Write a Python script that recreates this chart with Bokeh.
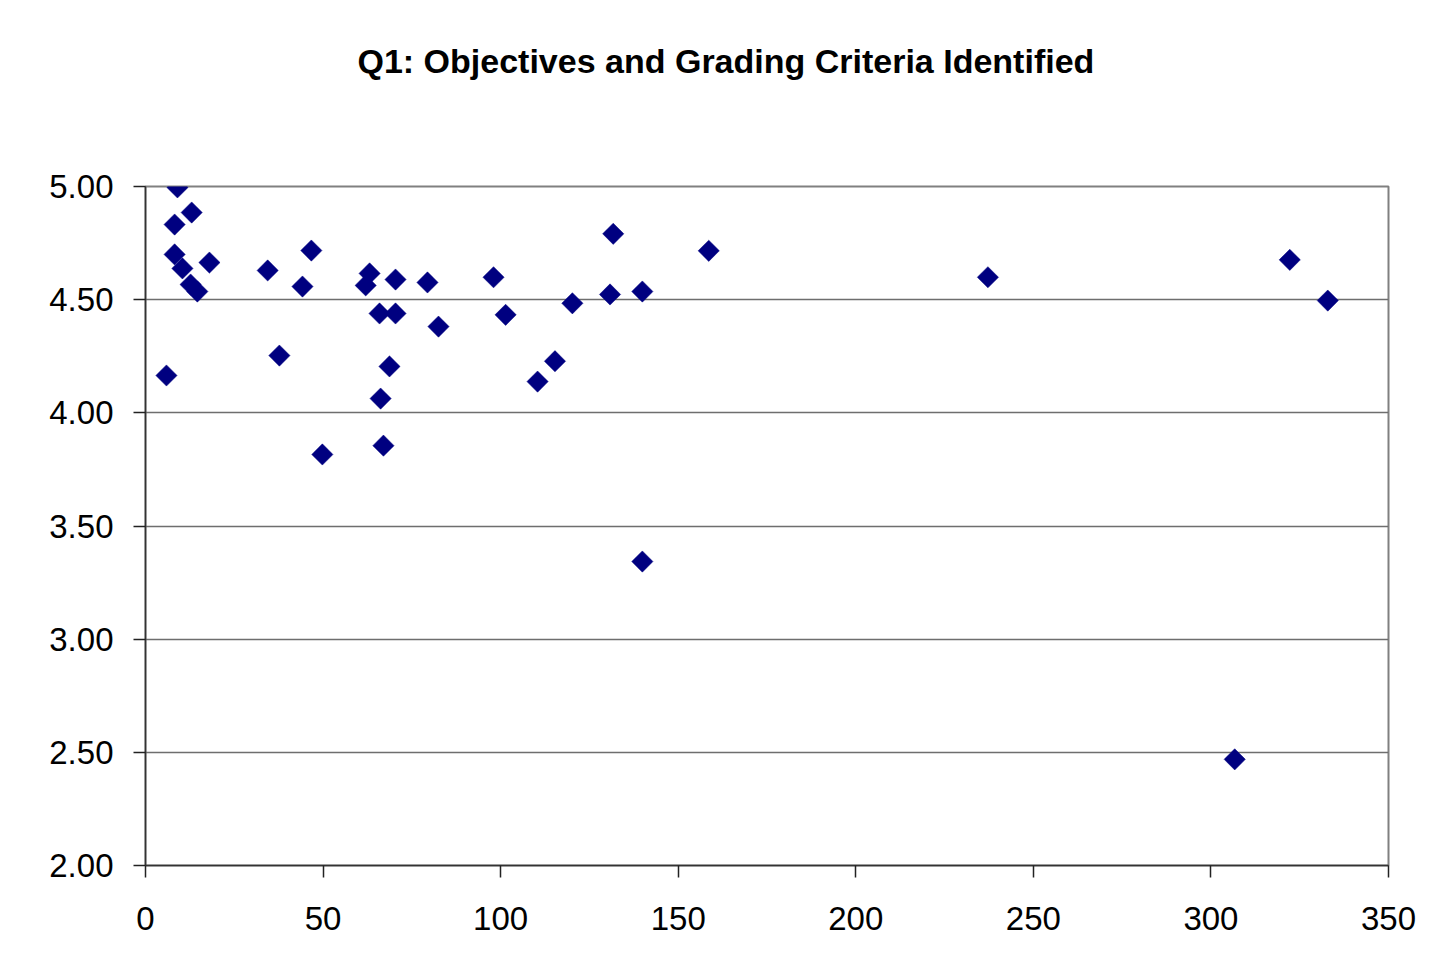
from bokeh.plotting import figure
from bokeh.models import NumeralTickFormatter, FixedTicker, Range1d, Title
from bokeh.embed import file_html
from bokeh.resources import INLINE
import math

enrollment = [5.9, 8.2, 9.0, 8.2, 10.4, 13.0, 12.7, 14.6, 18.0, 34.4, 37.7, 44.2,
              46.7, 49.8, 62.0, 63.1, 65.9, 66.2, 67.0, 68.7, 70.4, 70.4, 79.4, 82.5,
              98.0, 101.4, 131.7, 158.6, 120.2, 130.8, 139.9, 115.3, 110.4, 139.9,
              237.2, 322.2, 332.9, 306.7]
score = [4.165, 4.832, 4.996, 4.70, 4.638, 4.885, 4.567, 4.536, 4.664, 4.629, 4.253, 4.558,
         4.717, 3.816, 4.563, 4.616, 4.439, 4.063, 3.855, 4.205, 4.589, 4.439, 4.576, 4.381,
         4.599, 4.433, 4.791, 4.716, 4.484, 4.523, 4.536, 4.228, 4.138, 3.343,
         4.599, 4.676, 4.496, 2.469]

x_ticks = [0, 50, 100, 150, 200, 250, 300, 350]
y_ticks = [2.0, 2.5, 3.0, 3.5, 4.0, 4.5, 5.0]
title_text = "Q1: Objectives and Grading Criteria Identified"

p = figure(output_backend="svg", toolbar_location=None,
           frame_width=1243, frame_height=679,
           min_border_left=145, min_border_right=50,
           min_border_top=186, min_border_bottom=100,
           x_range=Range1d(0, 350), y_range=Range1d(2.0, 5.0))

# blank spacer between plot area and title (first "above" item sits next to the frame)
p.add_layout(Title(text=" ", text_font_size="10px", standoff=94,
                   text_color="white"), "above")
p.add_layout(Title(text=title_text, text_font="Liberation Sans",
                   text_font_style="bold", text_font_size="34px",
                   text_color="black", align="left", offset=212,
                   vertical_align="bottom", standoff=0), "above")

p.background_fill_color = "white"
p.border_fill_color = "white"
p.outline_line_color = "#808080"
p.outline_line_width = 2

p.xaxis.ticker = FixedTicker(ticks=x_ticks)
p.yaxis.ticker = FixedTicker(ticks=y_ticks)
p.yaxis.formatter = NumeralTickFormatter(format="0.00")

for ax in (p.xaxis[0], p.yaxis[0]):
    ax.major_label_text_font = "Liberation Sans"
    ax.major_label_text_font_size = "33px"
    ax.major_label_text_color = "black"
    ax.major_tick_out = 12
    ax.major_tick_in = 0
    ax.minor_tick_out = 0
    ax.minor_tick_in = 0
    ax.major_tick_line_color = "#222222"
    ax.major_tick_line_width = 1.5
    ax.axis_line_color = "#333333"
    ax.axis_line_width = 1.5
    ax.major_label_standoff = 20

p.xaxis.major_label_standoff = 29

p.xgrid.grid_line_color = None
p.ygrid.grid_line_color = "#6e6e6e"
p.ygrid.grid_line_width = 1.5

p.scatter(enrollment, score, marker="square", size=15, angle=math.pi / 4,
          fill_color="#000080", line_color="#000080", line_width=0.5)

open("out.html", "w").write(file_html(p, INLINE))
